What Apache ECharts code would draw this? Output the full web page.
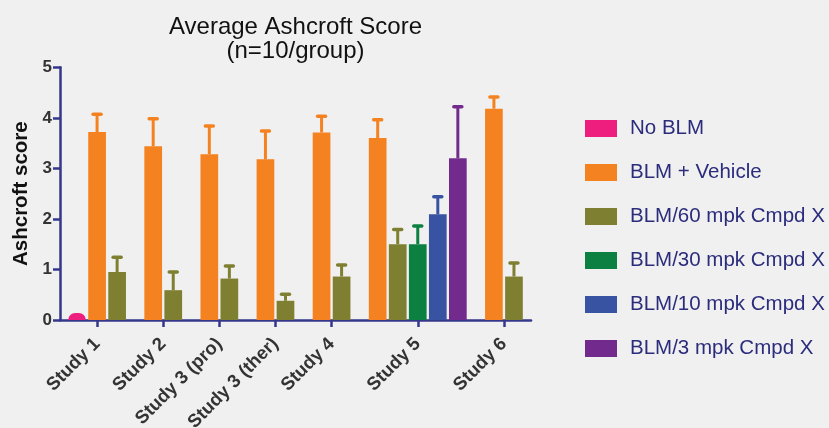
<!DOCTYPE html>
<html>
<head>
<meta charset="utf-8">
<title>Average Ashcroft Score</title>
<script src="https://cdn.jsdelivr.net/npm/echarts@6/dist/echarts.min.js"></script>
<style>
  html, body { margin: 0; padding: 0; background: #f0f0f0; }
  #chart { width: 829px; height: 428px; }
</style>
</head>
<body>
<div id="chart"></div>
<script>
// Study groups along the x axis
const categories = ['Study 1', 'Study 2', 'Study 3 (pro)', 'Study 3 (ther)', 'Study 4', 'Study 5', 'Study 6'];

// Treatment groups (legend order)
const seriesNames = ['No BLM', 'BLM + Vehicle', 'BLM/60 mpk Cmpd X', 'BLM/30 mpk Cmpd X', 'BLM/10 mpk Cmpd X', 'BLM/3 mpk Cmpd X'];

// Mean Ashcroft score per study (null = group not included in that study)
const noBLM    = [0.14, null, null, null, null, null, null];
const vehicle  = [3.72, 3.44, 3.28, 3.18, 3.71, 3.60, 4.18];
const cmpd60   = [0.95, 0.59, 0.82, 0.38, 0.86, 1.50, 0.86];
const cmpd30   = [null, null, null, null, null, 1.50, null];
const cmpd10   = [null, null, null, null, null, 2.09, null];
const cmpd3    = [null, null, null, null, null, 3.20, null];

// Upper error (SEM) per study
const noBLMErr   = [0,    null, null, null, null, null, null];
const vehicleErr = [0.35, 0.54, 0.56, 0.56, 0.32, 0.36, 0.23];
const cmpd60Err  = [0.29, 0.36, 0.25, 0.13, 0.23, 0.29, 0.27];
const cmpd30Err  = [null, null, null, null, null, 0.36, null];
const cmpd10Err  = [null, null, null, null, null, 0.35, null];
const cmpd3Err   = [null, null, null, null, null, 1.02, null];

// Y axis ticks
const yTicks = [0, 1, 2, 3, 4, 5];

const means = [noBLM, vehicle, cmpd60, cmpd30, cmpd10, cmpd3];
const errs = [noBLMErr, vehicleErr, cmpd60Err, cmpd30Err, cmpd10Err, cmpd3Err];
const colors = ['#ee1e7e', '#f58220', '#7f7f32', '#0b8040', '#3953a3', '#722b8c'];

// Bars within a study sit side by side; studies are separated by a wider step
const EDGE = 0.85, BAR_STEP = 1, GROUP_STEP = 1.8;
const positions = means.map(() => categories.map(() => null));
const centers = [];
let cursor = EDGE - GROUP_STEP;
categories.forEach((c, g) => {
  let first = null, last = null;
  means.forEach((arr, s) => {
    if (arr[g] == null) return;
    cursor += (first === null) ? GROUP_STEP : BAR_STEP;
    if (first === null) first = cursor;
    last = cursor;
    positions[s][g] = cursor;
  });
  centers.push((first + last) / 2);
});
const xMax = cursor + EDGE;

const axisColor = '#34378a';

const barSeries = means.map((arr, s) => ({
  name: seriesNames[s],
  type: 'bar',
  barWidth: 17.7,
  barGap: '-100%',
  itemStyle: { color: colors[s], borderRadius: s === 0 ? [10, 10, 0, 0] : 0 },
  data: arr.map((v, g) => v == null ? null : [positions[s][g], v]).filter(d => d),
  z: 2
}));

const errorSeries = means.map((arr, s) => ({
  name: seriesNames[s] + ' error',
  type: 'custom',
  z: 3,
  renderItem: function (params, api) {
    const x = api.value(0), m = api.value(1), top = api.value(2);
    if (top <= m) return null;
    const p0 = api.coord([x, m]);
    const p1 = api.coord([x, top]);
    const c = colors[s];
    return {
      type: 'group',
      children: [
        { type: 'line', shape: { x1: p0[0], y1: p0[1], x2: p1[0], y2: p1[1] },
          style: { stroke: c, lineWidth: 3 } },
        { type: 'line', shape: { x1: p1[0] - 4, y1: p1[1], x2: p1[0] + 4, y2: p1[1] },
          style: { stroke: c, lineWidth: 3.5, lineCap: 'round' } }
      ]
    };
  },
  data: arr.map((v, g) => v == null ? null : [positions[s][g], v, v + (errs[s][g] || 0)]).filter(d => d)
}));

const chart = echarts.init(document.getElementById('chart'), null, { renderer: 'canvas' });
chart.setOption({
  backgroundColor: '#f0f0f0',
  animation: false,
  textStyle: { fontFamily: 'Liberation Sans, Arial, sans-serif' },
  title: {
    text: 'Average Ashcroft Score\n(n=10/group)',
    left: 290.5,
    top: 10,
    textAlign: 'center',
    textStyle: { fontSize: 24, fontWeight: 'normal', color: '#111111', lineHeight: 24 }
  },
  legend: {
    orient: 'vertical',
    left: 580,
    top: 113,
    itemWidth: 32,
    itemHeight: 17,
    itemGap: 23,
    icon: 'rect',
    data: seriesNames,
    textStyle: { fontSize: 20.5, color: '#2b2c7c', padding: [0, 0, 0, 8] }
  },
  grid: { left: 60, right: 298, top: 67.3, bottom: 108, containLabel: false, outerBoundsMode: 'none' },
  xAxis: {
    type: 'value',
    min: 0,
    max: xMax,
    splitLine: { show: false },
    axisLine: { lineStyle: { color: axisColor, width: 2.5 } },
    axisTick: { show: true, customValues: centers, length: 7, lineStyle: { color: axisColor, width: 2.5 } },
    axisLabel: {
      customValues: centers,
      rotate: 45,
      margin: 21,
      fontSize: 18.5,
      fontWeight: 'bold',
      color: '#333333',
      formatter: function (v) {
        const i = centers.findIndex(c => Math.abs(c - v) < 1e-6);
        return i >= 0 ? categories[i] : '';
      }
    }
  },
  yAxis: {
    type: 'value',
    min: yTicks[0],
    max: yTicks[yTicks.length - 1],
    interval: 1,
    name: 'Ashcroft score',
    nameLocation: 'middle',
    nameGap: 28,
    nameTextStyle: { fontSize: 20.5, fontWeight: 'bold', color: '#111111' },
    splitLine: { show: false },
    axisLine: { show: true, lineStyle: { color: axisColor, width: 2.5 } },
    axisTick: { show: true, length: 7, lineStyle: { color: axisColor, width: 2.5 } },
    axisLabel: { margin: 8, fontSize: 17, fontWeight: 'bold', color: '#333333' }
  },
  series: barSeries.concat(errorSeries)
});
</script>
</body>
</html>
